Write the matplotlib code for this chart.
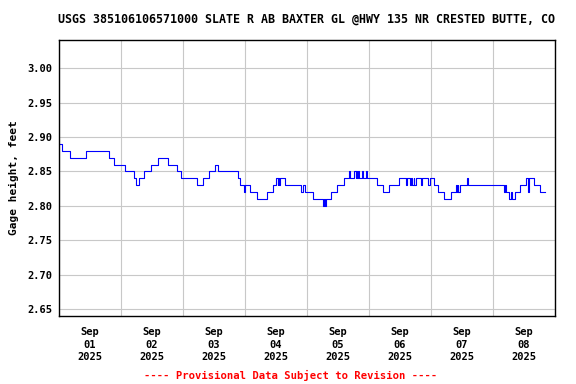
import matplotlib
matplotlib.use('Agg')
import matplotlib.pyplot as plt
import matplotlib.dates as mdates
import numpy as np
import pandas as pd

# Step changes in gage height, hours after 2025-09-01 00:00
change_hours = [0.0, 1.0, 4.4, 10.6, 19.5, 21.4, 25.7, 29.2, 29.9, 31.1,
                32.9, 35.6, 38.4, 42.3, 45.8, 47.1, 53.5, 55.9, 58.1, 60.4,
                61.4, 69.3, 70.2, 71.5, 72.1, 74.1, 76.7, 80.5, 82.8, 84.1,
                84.6, 84.9, 85.2, 85.7, 87.4, 93.8, 94.4, 95.1, 98.2, 102.1,
                102.5, 102.8, 103.4, 105.3, 107.5, 110.2, 112.4, 112.8, 114.1, 114.8,
                115.1, 115.4, 115.7, 116.0, 117.3, 117.6, 118.9, 119.3, 123.0, 125.3,
                127.9, 131.6, 134.2, 134.8, 135.9, 136.4, 136.8, 137.3, 137.6, 138.3,
                140.3, 140.6, 143.0, 143.5, 145.2, 146.7, 149.0, 151.6, 153.6, 153.9,
                154.3, 154.6, 155.1, 157.8, 158.3, 172.4, 172.8, 173.1, 174.1, 175.0,
                175.4, 176.4, 178.6, 180.8, 181.6, 182.0, 183.8, 186.3, 188.0]
gage_ft = [2.89, 2.88, 2.87, 2.88, 2.87, 2.86, 2.85, 2.84, 2.83, 2.84,
           2.85, 2.86, 2.87, 2.86, 2.85, 2.84, 2.83, 2.84, 2.85, 2.86,
           2.85, 2.84, 2.83, 2.82, 2.83, 2.82, 2.81, 2.82, 2.83, 2.84,
           2.83, 2.84, 2.83, 2.84, 2.83, 2.82, 2.83, 2.82, 2.81, 2.80,
           2.81, 2.80, 2.81, 2.82, 2.83, 2.84, 2.85, 2.84, 2.85, 2.84,
           2.85, 2.84, 2.85, 2.84, 2.85, 2.84, 2.85, 2.84, 2.83, 2.82,
           2.83, 2.84, 2.83, 2.84, 2.83, 2.84, 2.83, 2.84, 2.83, 2.84,
           2.83, 2.84, 2.83, 2.84, 2.83, 2.82, 2.81, 2.82, 2.83, 2.82,
           2.83, 2.82, 2.83, 2.84, 2.83, 2.82, 2.83, 2.82, 2.81, 2.82,
           2.81, 2.82, 2.83, 2.84, 2.82, 2.84, 2.83, 2.82, 2.82]

y_ticks = [2.65, 2.70, 2.75, 2.80, 2.85, 2.90, 2.95, 3.00]
title = 'USGS 385106106571000 SLATE R AB BAXTER GL @HWY 135 NR CRESTED BUTTE, CO'
start = pd.Timestamp('2025-09-01')

times = start + pd.to_timedelta(change_hours, unit='h')

mono = 'DejaVu Sans Mono'
fig = plt.figure(figsize=(5.76, 3.84), dpi=100)
ax = fig.add_axes([0.1024, 0.1771, 0.8611, 0.7187])

ax.plot(times, gage_ft, color='#0000ff', lw=0.8, drawstyle='steps-post')

ax.set_xlim(start, start + pd.Timedelta(days=8))
ax.set_ylim(2.640, 3.041)
ax.set_yticks(y_ticks)
ax.set_yticklabels(['%.2f' % v for v in y_ticks], family=mono,
                   fontweight='bold', fontsize=7.5)

ax.xaxis.set_major_locator(mdates.HourLocator(byhour=[12]))
ax.xaxis.set_major_formatter(mdates.DateFormatter('%b\n%d\n%Y'))
ax.xaxis.set_minor_locator(mdates.HourLocator(byhour=[0]))
for lab in ax.get_xticklabels():
    lab.set_family(mono)
    lab.set_fontweight('bold')
    lab.set_fontsize(7.5)
    lab.set_linespacing(1.3)

ax.tick_params(axis='x', which='both', length=0, pad=8)
ax.tick_params(axis='y', length=0, pad=5)
ax.grid(True, which='minor', axis='x', color='#c8c8c8', lw=0.8)
ax.grid(True, which='major', axis='y', color='#c8c8c8', lw=0.8)
ax.set_axisbelow(True)
for sp in ax.spines.values():
    sp.set_color('black')
    sp.set_linewidth(1.0)

ax.set_ylabel('Gage height, feet', family=mono, fontweight='bold',
              fontsize=8, labelpad=6)
fig.text(306 / 576, 1 - 19 / 384, title, family=mono, fontweight='bold',
         fontsize=8.4, ha='center', va='center')
fig.text(291 / 576, 1 - 375 / 384, '---- Provisional Data Subject to Revision ----',
         family=mono, fontweight='bold', fontsize=7.6, color='red',
         ha='center', va='center')

fig.savefig('out.png', dpi=100)
